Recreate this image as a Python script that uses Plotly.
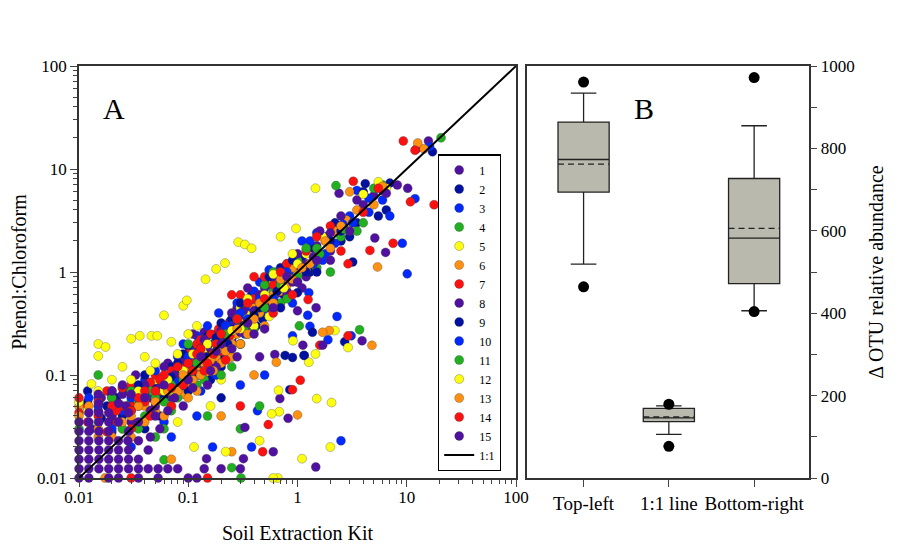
import plotly.graph_objects as go

# ---------------- Panel A data (Soil Extraction Kit vs Phenol:Chloroform) ----------------
S1 = [(0.035,0.05),(0.045,0.06),(0.06,0.09),(0.07,0.06),(0.08,0.11),(0.1,0.13),(0.12,0.1),(0.13,0.2),(0.15,0.16),
      (0.18,0.25),(0.2,0.15),(0.22,0.3),(0.25,0.22),(0.3,0.35),(0.35,0.28),(0.4,0.5),(0.45,0.38),(0.5,0.7),(0.6,0.55),
      (0.7,0.9),(0.8,0.65),(1.0,1.1),(1.2,0.9),(1.5,1.8),(2.0,1.6),(2.4,5.8),(3.0,3.2),(4.0,4.5),(5.0,5.5),(8.2,7.0),
      (10.2,6.5),(12.3,15.7),(15.8,18.7),(0.62,0.158),(1.12,0.195),(3.9,0.215),(1.47,0.0128),(0.6,0.018),(0.82,0.038),
      (0.015,0.045),(0.022,0.055),(0.028,0.07),(0.05,0.085),(0.065,0.13),(0.085,0.075),(0.11,0.18),(0.14,0.26),
      (0.17,0.14),(0.24,0.33),(0.28,0.45),(0.38,0.36),(0.55,0.85),(0.65,0.62),(0.9,1.25),(1.1,0.7),(1.8,2.0)]
S2 = [(0.012,0.07),(0.025,0.04),(0.04,0.03),(0.05,0.08),(0.07,0.12),(0.09,0.07),(0.11,0.15),(0.14,0.11),(0.17,0.2),
      (0.2,0.12),(0.25,0.35),(0.3,0.2),(0.35,0.45),(0.42,0.3),(0.5,0.55),(0.6,0.8),(0.75,0.6),(0.9,1.0),(1.1,1.4),
      (1.3,1.0),(1.8,2.2),(2.5,2.0),(3.2,1.25),(4.17,7.2),(5.5,3.5),(6.5,4.0),(17.2,14.7),(2.7,0.21),(1.15,0.155),
      (0.77,0.155),(0.85,0.072),(1.0,0.63),
      (0.016,0.038),(0.022,0.06),(0.035,0.055),(0.055,0.04),(0.08,0.1),(0.1,0.19),(0.15,0.24),(0.19,0.15),
      (0.27,0.25),(0.38,0.6),(0.48,0.35),(0.7,1.1),(1.4,1.7),(2.2,3.0),(3.5,3.0)]
S3 = [(0.015,0.06),(0.03,0.02),(0.045,0.045),(0.06,0.035),(0.08,0.15),(0.1,0.09),(0.13,0.07),(0.16,0.13),(0.19,0.4),
      (0.23,0.18),(0.28,0.5),(0.33,0.25),(0.4,0.65),(0.5,0.42),(0.65,1.0),(0.8,1.2),(1.0,0.8),(1.3,2.0),(1.7,1.3),
      (2.2,1.9),(3.0,3.5),(4.5,3.8),(6.0,5.0),(16.2,16.5),(11.9,5.15),(10.1,0.96),(9.1,1.9),(2.5,0.023),(1.9,0.22),
      (3.1,0.24),(2.3,0.37),(1.27,0.63),(1.3,0.297),(0.43,0.045),(0.38,0.02),(0.167,0.02),(0.9,0.24),
      (0.02,0.07),(0.025,0.045),(0.04,0.09),(0.07,0.09),(0.09,0.12),(0.12,0.24),(0.14,0.16),(0.2,0.23),(0.25,0.3),
      (0.36,0.42),(0.45,0.8),(0.6,0.7),(0.9,0.95),(1.5,2.4),(2.8,2.6),(3.5,6.2)]
S4 = [(0.02,0.05),(0.035,0.03),(0.05,0.025),(0.07,0.045),(0.09,0.1),(0.12,0.08),(0.15,0.12),(0.2,0.28),(0.25,0.18),
      (0.35,0.25),(0.5,0.75),(0.7,0.5),(1.0,1.3),(1.5,1.1),(2.25,6.9),(3.5,2.5),(5.0,6.5),(20.6,20.1),(3.7,0.275),
      (1.04,0.30),(0.304,0.01),(0.25,0.0126),(0.06,0.015),(0.3,0.03),
      (0.015,0.035),(0.03,0.055),(0.045,0.07),(0.06,0.03),(0.1,0.12),(0.13,0.16),(0.18,0.22),(0.3,0.2),(0.42,0.45),
      (0.6,0.65),(0.8,0.95),(1.5,1.7),(2.5,2.2)]
S5 = [(0.015,0.2),(0.0175,0.187),(0.015,0.153),(0.03,0.225),(0.036,0.24),(0.046,0.24),(0.052,0.24),(0.06,0.38),
      (0.09,0.47),(0.097,0.53),(0.144,0.85),(0.18,1.07),(0.217,1.22),(0.287,1.95),(0.33,1.85),(0.38,1.7),(0.7,2.2),
      (0.97,2.65),(1.46,6.5),(0.04,0.06),(0.08,0.08),(0.12,0.14),(0.2,0.2),(0.3,0.45),(0.5,0.5),(0.8,0.9),(1.2,1.5),
      (2.9,0.185),(2.2,0.27),(1.46,0.16),(1.27,0.133),(0.91,0.215),(2.0,0.02),(1.1,0.0154),(0.66,0.01),
      (0.02,0.04),(0.05,0.09),(0.07,0.07),(0.1,0.11),(0.15,0.17),(0.25,0.24),(0.35,0.38),(0.6,0.8),(0.08,0.035),
      (0.16,0.05),(0.2,0.09),(1.7,2.2),(3.0,2.8)]
S6 = [(0.01,0.05),(0.02,0.035),(0.03,0.025),(0.05,0.045),(0.07,0.05),(0.09,0.065),(0.1,0.08),(0.12,0.1),(0.15,0.1),
      (0.18,0.15),(0.22,0.2),(0.28,0.25),(0.35,0.32),(0.45,0.4),(0.6,0.6),(0.8,0.75),(1.0,0.95),(1.5,1.4),(2.2,2.5),
      (3.5,4.0),(5.4,1.12),(14.4,15.7),(12.6,17.9),(4.8,0.194),(1.95,0.27),(1.7,0.26),(0.64,0.133),(1.0,0.041),
      (0.25,0.018),(0.0173,0.01),
      (0.015,0.025),(0.025,0.03),(0.04,0.05),(0.06,0.06),(0.08,0.095),(0.1,0.12),(0.13,0.12),(0.16,0.19),(0.2,0.13),
      (0.25,0.2),(0.3,0.32),(0.4,0.45),(0.55,0.5),(0.7,0.65),(0.9,1.1),(1.2,1.05),(2.8,3.2)]
S7 = [(0.01,0.043),(0.015,0.04),(0.02,0.06),(0.025,0.05),(0.03,0.08),(0.04,0.055),(0.05,0.1),(0.06,0.07),(0.08,0.09),
      (0.1,0.16),(0.12,0.2),(0.14,0.15),(0.16,0.25),(0.2,0.17),(0.3,0.6),(0.5,0.9),(0.8,1.2),(1.2,1.6),(2.0,2.8),
      (3.24,7.6),(4.6,1.62),(7.5,1.9),(2.9,1.2),(9.3,18.7),(11.9,15.2),(17.8,4.5),(10.8,4.8),(2.9,0.24),(1.6,0.195),
      (0.9,0.072),(1.06,0.089),(0.54,0.033),(0.48,0.018),(1.25,0.54),(0.03,0.01),
      (0.012,0.05),(0.018,0.07),(0.022,0.035),(0.03,0.05),(0.035,0.075),(0.045,0.085),(0.055,0.06),(0.07,0.11),
      (0.09,0.13),(0.11,0.14),(0.13,0.22),(0.17,0.19),(0.19,0.28),(0.24,0.24),(0.3,0.3),(0.4,0.55),(0.6,0.75)]
S8 = [(0.013,0.03),(0.02,0.04),(0.025,0.065),(0.03,0.035),(0.04,0.08),(0.05,0.05),(0.06,0.12),(0.07,0.08),(0.09,0.14),
      (0.1,0.1),(0.11,0.25),(0.13,0.13),(0.16,0.18),(0.18,0.12),(0.22,0.22),(0.25,0.4),(0.3,0.26),(0.35,0.7),(0.45,0.6),
      (0.55,0.45),(0.7,0.7),(0.9,0.8),(1.2,1.2),(1.6,2.5),(2.5,3.5),(3.5,5.0),(6.0,6.2),(6.4,1.55),(5.1,2.14),
      (1.48,0.45),(1.0,0.42),(0.69,0.059),(0.32,0.0154),(0.147,0.0154),(0.33,0.031),(1.7,0.195),
      (0.012,0.045),(0.016,0.06),(0.02,0.028),(0.027,0.05),(0.033,0.1),(0.045,0.045),(0.055,0.075),(0.075,0.1),
      (0.095,0.09),(0.12,0.15),(0.14,0.22),(0.2,0.27),(0.27,0.3),(0.32,0.42),(0.4,0.42),(0.6,0.9),(0.8,0.6),(1.0,1.5),
      (1.4,1.4),(2.0,2.4)]
S9 = [(0.012,0.055),(0.018,0.05),(0.03,0.045),(0.04,0.1),(0.06,0.06),(0.08,0.13),(0.1,0.07),(0.13,0.18),(0.16,0.09),
      (0.2,0.32),(0.25,0.28),(0.32,0.3),(0.4,0.38),(0.55,0.9),(0.7,0.45),(0.9,1.3),(1.37,0.26),(1.15,0.155),(0.9,0.148),
      (2.0,2.0),(3.0,2.2),(4.0,6.0),(7.0,7.3),(1.5,1.0),(0.2,0.06),
      (0.02,0.065),(0.035,0.08),(0.05,0.06),(0.07,0.095),(0.09,0.16),(0.11,0.1),(0.15,0.15),(0.18,0.23),(0.23,0.2),
      (0.3,0.5),(0.45,0.45),(0.65,0.65),(1.2,1.0),(2.5,2.5)]
S10 = [(0.0123,0.06),(0.02,0.03),(0.03,0.06),(0.05,0.11),(0.07,0.075),(0.09,0.2),(0.11,0.12),(0.15,0.3),(0.18,0.1),
       (0.25,0.15),(0.3,0.4),(0.45,0.55),(0.55,1.05),(0.7,0.8),(0.9,0.5),(1.1,2.0),(1.24,0.38),(1.8,1.5),(2.6,2.9),
       (4.5,5.2),(7.0,3.5),(0.3,0.08),(0.12,0.04),(0.07,0.025),(0.5,0.1),
       (0.015,0.05),(0.025,0.075),(0.04,0.065),(0.06,0.09),(0.08,0.085),(0.1,0.15),(0.13,0.1),(0.2,0.18),(0.22,0.3),
       (0.35,0.35),(0.6,0.55),(0.8,1.0),(1.4,1.2),(3.2,3.0)]
S11 = [(0.01,0.03),(0.015,0.1),(0.025,0.03),(0.04,0.04),(0.06,0.055),(0.08,0.06),(0.1,0.2),(0.14,0.09),(0.2,0.1),
       (0.28,0.35),(0.4,0.28),(0.6,1.0),(0.8,0.55),(1.2,1.7),(2.0,1.0),(2.7,2.6),(4.0,3.0),(6.0,7.0),(0.15,0.04),
       (0.25,0.12),(0.45,0.05),
       (0.02,0.06),(0.03,0.07),(0.05,0.06),(0.07,0.08),(0.09,0.09),(0.12,0.13),(0.17,0.16),(0.22,0.25),(0.33,0.3),
       (0.5,0.45),(0.7,0.75),(1.0,0.9),(1.6,1.5)]
S12 = [(0.01,0.055),(0.012,0.045),(0.013,0.082),(0.02,0.09),(0.025,0.12),(0.04,0.15),(0.035,0.07),(0.05,0.13),
       (0.065,0.09),(0.07,0.21),(0.09,0.11),(0.12,0.3),(0.1,0.25),(0.15,0.2),(0.25,0.27),(0.4,0.3),(0.6,0.95),(0.9,1.5),
       (2.05,0.054),(1.5,0.059),(0.68,0.044),(0.58,0.042),(0.67,0.071),(0.45,0.023),(0.22,0.018),(0.113,0.02),
       (0.55,0.37),(4.0,5.7),(5.5,7.5),(6.5,6.5),(0.6,0.01),
       (0.015,0.07),(0.03,0.09),(0.045,0.11),(0.06,0.07),(0.08,0.16),(0.11,0.16),(0.13,0.1),(0.18,0.18),(0.3,0.28),
       (0.35,0.55),(0.5,0.6),(0.75,0.7),(1.0,1.2)]
S13 = [(0.01,0.04),(0.0123,0.05),(0.02,0.025),(0.03,0.04),(0.04,0.035),(0.06,0.04),(0.08,0.07),(0.1,0.06),(0.12,0.07),
       (0.14,0.13),(0.17,0.11),(0.2,0.18),(0.25,0.15),(0.3,0.2),(0.4,0.35),(0.5,0.3),(0.7,0.85),(1.3,1.2),(1.8,2.0),
       (2.5,2.8),(3.0,6.0),(5.0,4.5),(6.0,6.8),(0.4,0.1),(0.2,0.04),(0.07,0.0152),
       (0.015,0.03),(0.025,0.035),(0.035,0.05),(0.05,0.055),(0.065,0.07),(0.09,0.1),(0.11,0.09),(0.13,0.1),(0.16,0.14),
       (0.22,0.17),(0.28,0.28),(0.35,0.25),(0.45,0.5),(0.6,0.5),(0.9,0.85),(1.1,1.1),(2.0,1.7)]
S14 = [(0.012,0.035),(0.018,0.028),(0.022,0.045),(0.03,0.03),(0.035,0.06),(0.045,0.04),(0.05,0.07),(0.06,0.1),
       (0.07,0.05),(0.08,0.12),(0.09,0.08),(0.11,0.11),(0.13,0.18),(0.15,0.13),(0.18,0.2),(0.22,0.14),(0.25,0.6),
       (0.35,0.5),(0.4,0.9),(0.6,0.4),(0.9,0.6),(1.5,2.2),(2.5,1.6),(4.0,3.8),(5.5,6.5),(0.3,0.05),(0.15,0.01),
       (0.01,0.06),(0.015,0.055),(0.02,0.05),(0.025,0.075),(0.03,0.045),(0.04,0.07),(0.055,0.09),(0.07,0.075),
       (0.1,0.13),(0.12,0.16),(0.14,0.11),(0.17,0.16),(0.2,0.25),(0.28,0.35),(0.5,0.55),(0.7,1.0)]
S15 = [(0.01,0.01),(0.01,0.0123),(0.01,0.0152),(0.01,0.0187),(0.01,0.023),(0.01,0.0284),(0.01,0.035),
       (0.0123,0.01),(0.0123,0.0123),(0.0123,0.0152),(0.0123,0.0187),(0.0123,0.023),(0.0123,0.0284),(0.0123,0.035),
       (0.0123,0.043),(0.0152,0.0123),(0.0152,0.0152),(0.0152,0.0187),(0.0152,0.023),(0.0152,0.0284),(0.0152,0.035),
       (0.0152,0.043),(0.0152,0.053),(0.0187,0.01),(0.0187,0.0123),(0.0187,0.0152),(0.0187,0.0187),(0.0187,0.023),
       (0.0187,0.0284),(0.0187,0.035),(0.0187,0.043),(0.023,0.01),(0.023,0.0123),(0.023,0.0152),(0.023,0.0187),
       (0.023,0.023),(0.023,0.035),(0.023,0.053),(0.0284,0.0123),(0.0284,0.0152),(0.0284,0.0187),(0.0284,0.0284),
       (0.0284,0.043),(0.035,0.01),(0.035,0.0123),(0.035,0.0152),(0.035,0.023),(0.043,0.0123),(0.043,0.0187),
       (0.053,0.01),(0.053,0.0123),(0.065,0.0123),(0.08,0.0123),(0.1,0.01),(0.14,0.0123),(0.12,0.01),(0.2,0.0123),
       (0.3,0.0123),(0.055,0.03),(0.065,0.045),(0.09,0.05),(0.11,0.075),(0.16,0.11),(0.2,0.2),(0.28,0.15),(0.45,0.15),
       (0.5,0.28),(0.8,0.9),(1.5,1.3),(3.0,2.5),(6.5,5.8),(0.015,0.065),(0.025,0.08),
       (0.02,0.07),(0.03,0.065),(0.04,0.06),(0.05,0.04),(0.06,0.08),(0.075,0.06),(0.1,0.09),(0.13,0.15),(0.15,0.08),
       (0.18,0.17),(0.25,0.18),(0.35,0.32),(0.4,0.25),(0.6,0.45),(1.0,0.8),(2.0,1.3),(0.035,0.035),(0.045,0.025),
       (0.028,0.023)]

SERIES = [S1, S2, S3, S4, S5, S6, S7, S8, S9, S10, S11, S12, S13, S14, S15]
SERIES_NAMES = [str(i) for i in range(1, 16)]
SERIES_COLORS = ["#5010a0", "#0010a0", "#0028ff", "#20b020", "#ffff10", "#ff9010", "#ff1010",
                 "#5010a0", "#0010a0", "#0028ff", "#20b020", "#ffff10", "#ff9010", "#ff1010", "#5010a0"]
ONE_TO_ONE = [0.01, 100]

# ---------------- Panel B data (box statistics) ----------------
CATS = ["Top-left", "1:1 line", "Bottom-right"]
Q1 = [694, 137, 472]
MEDIAN = [773, 146, 582]
Q3 = [864, 169, 727]
LOWER = [519, 106, 406]
UPPER = [934, 175, 855]
MEAN = [762, 148, 606]
OUT_IDX = [0, 0, 1, 1, 2, 2]
OUT_VALS = [961, 464, 179, 77, 972, 404]

FONT = "Liberation Serif"
BOX_W = 0.6
fig = go.Figure()

for pts, name, col in zip(SERIES, SERIES_NAMES, SERIES_COLORS):
    fig.add_trace(go.Scatter(
        x=[p[0] for p in pts], y=[p[1] for p in pts], mode="markers", name=name,
        marker=dict(size=9, color=col, line=dict(width=0.6, color="rgba(60,60,60,0.55)")),
        cliponaxis=False, xaxis="x", yaxis="y"))

fig.add_trace(go.Scatter(x=ONE_TO_ONE, y=ONE_TO_ONE, mode="lines", name="1:1",
                         line=dict(color="black", width=2), xaxis="x", yaxis="y"))

idx = list(range(len(CATS)))
fig.add_trace(go.Box(x=idx, q1=Q1, median=MEDIAN, q3=Q3, lowerfence=LOWER, upperfence=UPPER,
                     boxpoints=False, width=BOX_W, whiskerwidth=0.5,
                     fillcolor="#b9b9ad", line=dict(color="#222222", width=1.3),
                     showlegend=False, xaxis="x2", yaxis="y2"))
# dashed mean lines across each box
mx, my = [], []
for i, m in zip(idx, MEAN):
    mx += [i - BOX_W / 2, i + BOX_W / 2, None]
    my += [m, m, None]
fig.add_trace(go.Scatter(x=mx, y=my, mode="lines", showlegend=False, hoverinfo="skip",
                         line=dict(color="#222222", width=1.3, dash="6px,4px"), xaxis="x2", yaxis="y2"))
fig.add_trace(go.Scatter(x=OUT_IDX, y=OUT_VALS, mode="markers", showlegend=False,
                         marker=dict(size=11, color="black"), xaxis="x2", yaxis="y2"))

minor_log = [m * 10 ** e for e in range(-2, 2) for m in range(2, 10)]
logticks = [0.01, 0.1, 1, 10, 100]
logtext = ["0.01", "0.1", "1", "10", "100"]

# the page adds an 8 px body margin, so the figure is drawn 8 px smaller and offset
OFF = 8
W, H = 910 - OFF, 545 - OFF
TOP, BOT = 65.7 - OFF, 477.7 - OFF
PH = BOT - TOP


def px(v):
    return (v - OFF) / W


def py(v):
    return (BOT - (v - OFF)) / PH


fig.update_layout(
    width=W, height=H, margin=dict(l=0, r=0, t=TOP, b=H - BOT, autoexpand=False),
    paper_bgcolor="white", plot_bgcolor="white",
    font=dict(family=FONT, color="black", size=16),
    xaxis=dict(type="log", range=[-2, 2], domain=[px(79), px(516)], anchor="y", automargin=False,
               tickvals=logticks, ticktext=logtext, ticks="outside", ticklen=7, tickwidth=1,
               ticklabelstandoff=-4,
               showline=True, linecolor="#333", linewidth=1.5, mirror=True, showgrid=False, zeroline=False,
               minor=dict(tickvals=minor_log, ticks="outside", ticklen=4, tickwidth=1, showgrid=False),
               title=dict(text="Soil Extraction Kit", font=dict(size=20), standoff=20),
               tickfont=dict(size=17)),
    yaxis=dict(type="log", range=[-2, 2], domain=[0, 1], anchor="x", automargin=False,
               tickvals=logticks, ticktext=logtext, ticks="outside", ticklen=7, tickwidth=1,
               showline=True, linecolor="#333", linewidth=1.5, mirror=True, showgrid=False, zeroline=False,
               minor=dict(tickvals=minor_log, ticks="outside", ticklen=4, tickwidth=1, showgrid=False),
               title=dict(text="Phenol:Chloroform", font=dict(size=20), standoff=10),
               tickfont=dict(size=17)),
    xaxis2=dict(domain=[px(527.3), px(808.7)], anchor="y2", range=[-0.66, 2.64],
                tickvals=idx, ticktext=CATS, automargin=False, ticklabelstandoff=0,
                ticks="outside", ticklen=7, tickangle=0, showline=True, linecolor="#333", linewidth=1.5,
                mirror=True, showgrid=False, zeroline=False, tickfont=dict(size=19)),
    yaxis2=dict(domain=[0, 1], anchor="x2", side="right", range=[0, 1000], automargin=False,
                tickvals=[0, 200, 400, 600, 800, 1000],
                ticks="outside", ticklen=7, showline=True, linecolor="#333", linewidth=1.5, mirror=True,
                showgrid=False, zeroline=False,
                minor=dict(tickvals=[100, 300, 500, 700, 900], ticks="outside", ticklen=7, showgrid=False),
                title=dict(text="Δ OTU relative abundance", font=dict(size=20)), tickfont=dict(size=17)),
    legend=dict(x=px(438), xanchor="left", y=py(471), yanchor="bottom", bgcolor="white",
                bordercolor="black", borderwidth=1.2, font=dict(size=12), tracegroupgap=0),
    annotations=[
        dict(text="A", x=px(101), y=py(90), xref="paper", yref="paper", showarrow=False,
             font=dict(size=30, family=FONT)),
        dict(text="B", x=px(656), y=py(90), xref="paper", yref="paper", showarrow=False,
             font=dict(size=30, family=FONT)),
    ],
)

fig.write_html("out.html")
